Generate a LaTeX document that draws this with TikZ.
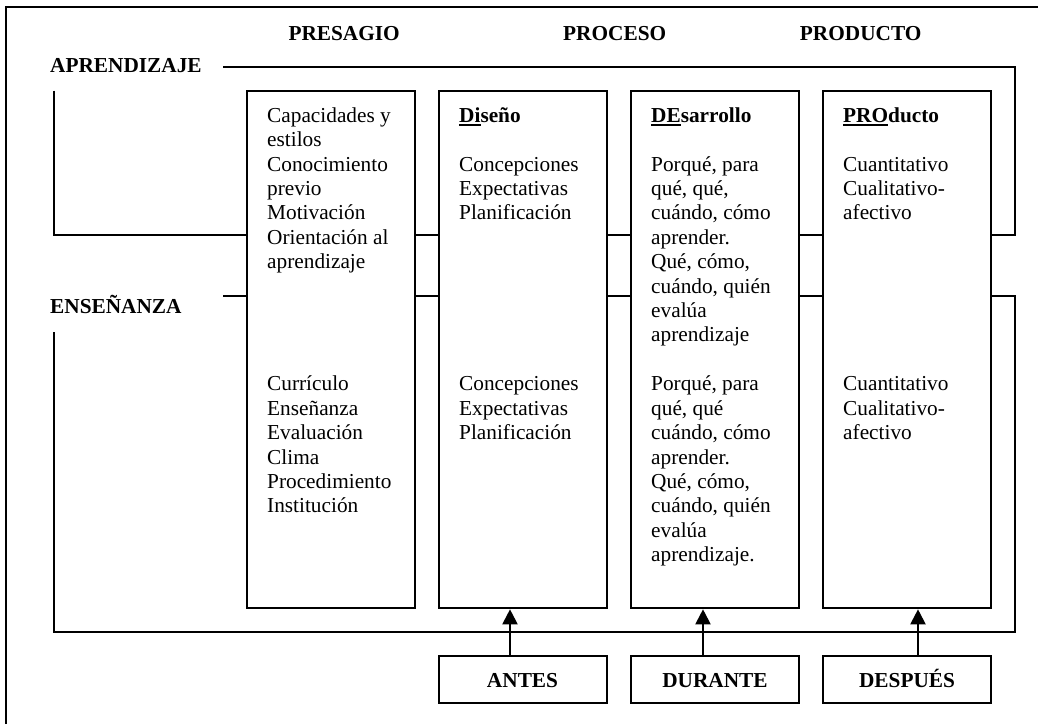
\documentclass[tikz,border=0pt]{standalone}
\usepackage{fontspec}
\setmainfont{Liberation Serif}
\usetikzlibrary{arrows.meta}
\newcommand{\myul}[1]{\setbox0\hbox{#1}\rlap{\rule[-3.6pt]{\wd0}{2.3pt}}\box0}
\newcommand{\fstrut}{\rule{0pt}{18pt}}
\begin{document}
\begin{tikzpicture}[x=1pt,y=-1pt,
  every node/.style={font=\fontsize{21.3}{24.4}\selectfont},
  bigbox/.style={draw,line width=2pt,inner sep=0pt,minimum width=168pt,minimum height=517.6pt},
  smallbox/.style={draw,line width=2pt,inner sep=0pt,minimum width=168pt,minimum height=47.6pt,text height=16pt,text depth=0pt,font=\fontsize{21.3}{24.4}\selectfont\bfseries},
  lbl/.style={anchor=base west,inner sep=0pt,font=\fontsize{21.3}{24.4}\selectfont\bfseries},
  body/.style={anchor=north west,inner sep=0pt,align=left},
  conn/.style={line width=2pt},
  arr/.style={line width=2pt,-{Triangle[width=15pt,length=15pt]}}]
\useasboundingbox (0,0) rectangle (1038,724);
% frame (top and left only)
\coordinate (fBL) at (6,724);
\coordinate (fTL) at (6,7.3);
\coordinate (fTR) at (1038,7.3);
\draw[line width=1.8pt] (fBL) -- (fTL) -- (fTR);
% headings
\node[lbl] (presagio) at (288.3,40) {PRESAGIO};
\node[lbl] (proceso) at (563,40) {PROCESO};
\node[lbl] (producto) at (799.7,40) {PRODUCTO};
\node[lbl] (aprend) at (50,72.7) {APRENDIZAJE};
\node[lbl] (ensen) at (50,313.3) {ENSEÑANZA};
% boxes
\node[bigbox] (b1) at (331,349.5) {};
\node[bigbox] (b2) at (522.5,349.5) {};
\node[bigbox] (b3) at (715,349.5) {};
\node[bigbox] (b4) at (907,349.5) {};
\node[smallbox] (antes) at (522.5,679.5) {ANTES};
\node[smallbox] (durante) at (715,679.5) {DURANTE};
\node[smallbox] (despues) at (907,679.5) {DESPUÉS};
% box texts
\node[body] (t1a) at (267,104) {\fstrut Capacidades y\\estilos\\Conocimiento\\previo\\Motivación\\Orientación al\\aprendizaje};
\node[body] (t1b) at (267,372.7) {\fstrut Currículo\\Enseñanza\\Evaluación\\Clima\\Procedimiento\\Institución};
\node[body] (t2a) at (459,104) {\fstrut\textbf{\myul{Di}seño}\\[24.4pt]Concepciones\\Expectativas\\Planificación};
\node[body] (t2b) at (459,372.7) {\fstrut Concepciones\\Expectativas\\Planificación};
\node[body] (t3a) at (651,104) {\fstrut\textbf{\myul{DE}sarrollo}\\[24.4pt]Porqué, para\\qué, qué,\\cuándo, cómo\\aprender.\\Qué, cómo,\\cuándo, quién\\evalúa\\aprendizaje};
\node[body] (t3b) at (651,372.7) {\fstrut Porqué, para\\qué, qué\\cuándo, cómo\\aprender.\\Qué, cómo,\\cuándo, quién\\evalúa\\aprendizaje.};
\node[body] (t4a) at (843,104) {\fstrut\textbf{\myul{PRO}ducto}\\[24.4pt]Cuantitativo\\Cualitativo-\\afectivo};
\node[body] (t4b) at (843,372.7) {\fstrut Cuantitativo\\Cualitativo-\\afectivo};
% level coordinates
\coordinate (aY) at (0,235);
\coordinate (eY) at (0,295.7);
\coordinate (aStart) at (223,66.7);
\coordinate (aCorner) at (1015,66.7);
\coordinate (aLeft) at (54.3,90.7);
\coordinate (eStart) at (223,295.7);
\coordinate (eCorner) at (1015,631.7);
\coordinate (eEnd) at (54.3,331.7);
% APRENDIZAJE lines
\draw[conn] (aStart) -- (aCorner) |- (b4.east |- aY);
\draw[conn] (aLeft) |- (b1.west |- aY);
\draw[conn] (b1.east |- aY) -- (b2.west |- aY);
\draw[conn] (b2.east |- aY) -- (b3.west |- aY);
\draw[conn] (b3.east |- aY) -- (b4.west |- aY);
% ENSEÑANZA lines
\draw[conn] (eStart) -- (b1.west |- eY);
\draw[conn] (b1.east |- eY) -- (b2.west |- eY);
\draw[conn] (b2.east |- eY) -- (b3.west |- eY);
\draw[conn] (b3.east |- eY) -- (b4.west |- eY);
\draw[conn] (b4.east |- eY) -| (eCorner) -| (eEnd);
% arrows
\draw[arr] ([xshift=-12.5pt]antes.north) -- ([xshift=-12.5pt]antes.north |- b2.south);
\draw[arr] ([xshift=-12pt]durante.north) -- ([xshift=-12pt]durante.north |- b3.south);
\draw[arr] ([xshift=11pt]despues.north) -- ([xshift=11pt]despues.north |- b4.south);
\end{tikzpicture}
\end{document}
